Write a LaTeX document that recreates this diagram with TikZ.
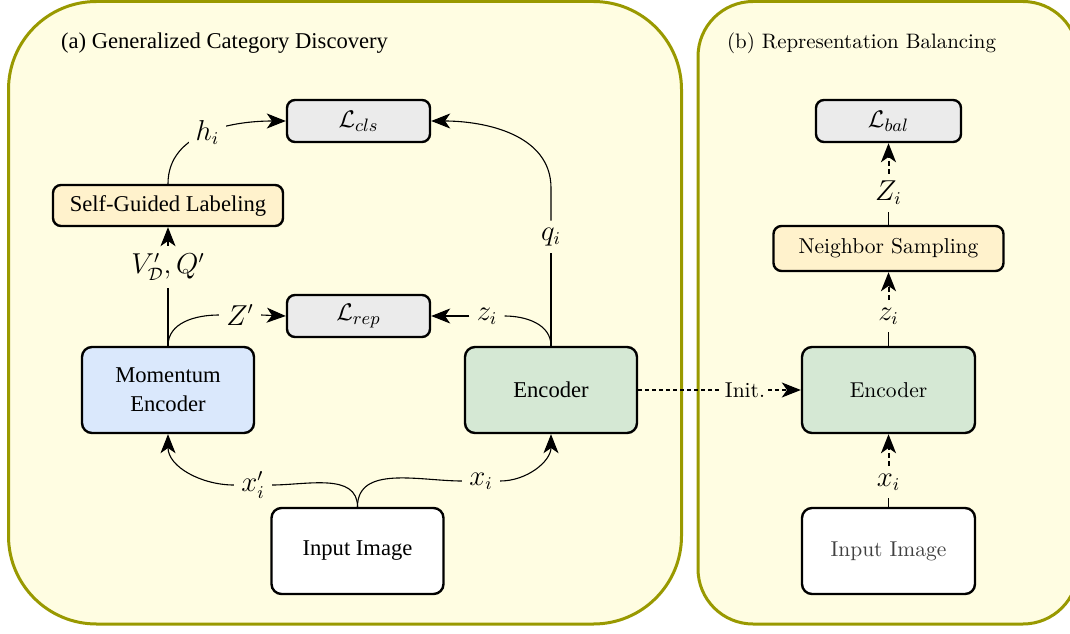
\documentclass[tikz,border=0pt]{standalone}
\usepackage{fontspec}
\usepackage{amsmath}
\newfontfamily\timesf{Liberation Serif}
\usetikzlibrary{arrows.meta,calc}
\definecolor{panelfill}{RGB}{255,253,226}
\definecolor{paneldraw}{RGB}{153,153,0}
\definecolor{lossfill}{RGB}{235,235,235}
\definecolor{yelfill}{RGB}{255,242,204}
\definecolor{bluefill}{RGB}{218,232,252}
\definecolor{greenfill}{RGB}{213,232,212}
\begin{document}
\begin{tikzpicture}[x=0.5pt,y=0.5pt,
  panel/.style={draw=paneldraw,fill=panelfill,line width=1.5pt},
  fa/.style={font=\timesf\fontsize{11.3}{13.5}\selectfont},
  fb/.style={font=\fontsize{10.75}{13}\selectfont},
  fm/.style={font=\fontsize{13.4}{16}\selectfont},
  box/.style={draw=black,line width=1.2pt,rounded corners=5pt,align=center,inner sep=0pt},
  lossbox/.style={box,fill=lossfill,minimum width=71.5pt,minimum height=21pt,rounded corners=4pt,font=\fontsize{12.6}{15}\selectfont},
  stepbig/.style={box,minimum width=86pt,minimum height=43pt},
  lbl/.style={inner sep=3.5pt,fm},
  thinl/.style={line width=0.55pt},
  tip/.style={-{Stealth[length=9.5pt,width=7.5pt,inset=2.6pt]}},
  arrl/.style={thinl,tip},
  darrl/.style={line width=1pt,dash pattern=on 2.5pt off 1.5pt,tip},
  initl/.style={line width=0.55pt,dash pattern=on 2pt off 1.5pt}
]
\clip (0,0) rectangle (1070,633);
% panels
\draw[panel,rounded corners=44pt] (8.5,9) rectangle (681.5,631.5);
\draw[panel,rounded corners=27.5pt] (698,9) rectangle (1078,631.5);
\node[fa,anchor=west] (ta) at (54,590) {(a) Generalized Category Discovery};
\node[anchor=west,font=\fontsize{10.45}{13}\selectfont] (tb) at (720,590) {(b) Representation Balancing};

% left panel nodes
\node[lossbox] (cls) at (358.5,512) {$\mathcal{L}_{cls}$};
\node[box,fa,fill=yelfill,minimum width=115pt,minimum height=20.5pt,rounded corners=4pt] (sgl) at (168,427.5) {Self-Guided Labeling};
\node[lossbox] (rep) at (358.5,317) {$\mathcal{L}_{rep}$};
\node[stepbig,fa,fill=bluefill] (mom) at (168,243) {Momentum\\[1pt]Encoder};
\node[stepbig,fa,fill=greenfill] (encL) at (551,243) {Encoder};
\node[stepbig,fa,fill=white] (imgL) at (357.5,82) {Input Image};

% left labels
\node[lbl] (vl) at (168,366) {$V'_{\mathcal{D}}, Q'$};
\node[lbl] (zp) at (240,318) {$Z'$};
\node[lbl] (zil) at (487,317) {$z_i$};
\node[lbl] (qi) at (551,396) {$q_i$};
\node[lbl] (xp) at (253,148) {$x'_i$};
\node[lbl] (xil) at (481,152) {$x_i$};
\coordinate (qbend) at (551,445);

% left edges
\draw[arrl] (sgl.north) to[out=90,in=180] node[lbl,fill=panelfill] (hi) {$h_i$} (cls.west);
\draw[thinl] (encL.north) -- (qi.south);
\draw[arrl] (qi.north) -- (qbend) to[out=90,in=0] (cls.east);
\draw[thinl] (mom.north) -- (vl.south);
\draw[arrl] (vl.north) -- (sgl.south);
\draw[thinl] (mom.north) to[out=90,in=180] (zp.west);
\draw[arrl] (zp.east) -- (rep.west);
\draw[thinl] (encL.north) to[out=90,in=0] (zil.east);
\draw[arrl] (zil.west) -- (rep.east);
\draw[thinl] (imgL.north) to[out=90,in=0] (xp.east);
\draw[arrl] (xp.west) to[out=180,in=-90] (mom.south);
\draw[thinl] (imgL.north) to[out=90,in=180] (xil.west);
\draw[arrl] (xil.east) to[out=0,in=-90] (encL.south);

% right panel nodes
\node[lossbox,minimum width=72.5pt] (bal) at (888.5,512) {$\mathcal{L}_{bal}$};
\node[box,fb,fill=yelfill,minimum width=115pt,minimum height=22.5pt,rounded corners=4pt] (ns) at (888.5,384.5) {Neighbor Sampling};
\node[stepbig,fb,fill=greenfill,minimum width=86.5pt] (encR) at (888.5,243) {Encoder};
\node[stepbig,fb,fill=white,minimum width=86.5pt,text=black!75] (imgR) at (888.5,82) {Input Image};

% right labels
\node[lbl] (Zi) at (888.5,440) {$Z_i$};
\node[lbl] (zir) at (888.5,317) {$z_i$};
\node[lbl] (xir) at (888.5,151) {$x_i$};
\node[fb,inner sep=1.5pt] (init) at (745,243) {Init.};

% right edges
\draw[thinl] (ns.north) -- (Zi.south);
\draw[darrl] (Zi.north) -- (bal.south);
\draw[thinl] (encR.north) -- (zir.south);
\draw[darrl] (zir.north) -- (ns.south);
\draw[thinl] (imgR.north) -- (xir.south);
\draw[darrl] (xir.north) -- (encR.south);
\draw[initl] (encL.east) -- (init.west);
\draw[initl,tip] (init.east) -- (encR.west);
\end{tikzpicture}
\end{document}
